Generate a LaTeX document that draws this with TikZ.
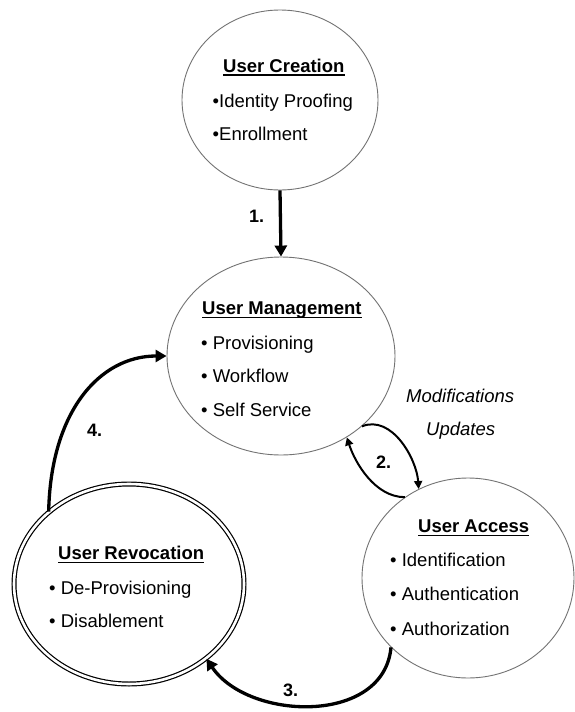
\documentclass[tikz,border=0pt]{standalone}
\usepackage{fontspec}
\setmainfont{Liberation Sans}
\usetikzlibrary{arrows.meta,shapes.geometric}
\newcommand\myul[1]{\setbox0\hbox{#1}\rlap{\usebox0}\rule[-3.6pt]{\wd0}{1.3pt}}
\begin{document}
\begin{tikzpicture}[x=1pt,y=-1pt,
  bub/.style={draw=black!55, line width=0.9pt, ellipse, inner sep=0pt},
  dbub/.style={draw=black, line width=1.2pt, double=white, double distance=2.6pt, ellipse, inner sep=0pt},
  txt/.style={anchor=base west, inner sep=0pt, font=\fontsize{18.5}{22}\selectfont},
  ttl/.style={anchor=base west, inner sep=0pt, font=\fontsize{18.5}{22}\selectfont\bfseries},
  lbl/.style={anchor=base west, inner sep=0pt, font=\fontsize{18}{22}\selectfont\bfseries},
  ital/.style={anchor=base west, inner sep=0pt, font=\fontsize{18.5}{22}\selectfont\itshape},
  bigarrow/.style={line width=3.3pt, -{Triangle[length=11pt,width=12pt]}},
  smallarrow/.style={line width=2pt, -{Triangle[length=8pt,width=8pt]}}]
\fill[white] (0,0) rectangle (574,712);
\useasboundingbox (0,0) rectangle (574,712);

% bubbles
\node[bub, minimum width=196pt, minimum height=180pt] (uc) at (280,100) {};
\node[bub, minimum width=228pt, minimum height=198pt] (um) at (281,356) {};
\node[bub, minimum width=212pt, minimum height=200pt] (ua) at (468,578) {};
\node[dbub, minimum width=230pt, minimum height=200pt] (ur) at (129,584) {};

% User Creation text
\node[ttl] (uct) at (223,72) {\myul{User Creation}};
\node[txt] (uc1) at (212.5,107.3) {•Identity Proofing};
\node[txt] (uc2) at (212.5,140.7) {•Enrollment};

% User Management text
\node[ttl] (umt) at (202,314.3) {\myul{User Management}};
\node[txt] (um1) at (201,349) {• Provisioning};
\node[txt] (um2) at (201,382.7) {• Workflow};
\node[txt] (um3) at (201,416.7) {• Self Service};

% User Access text
\node[ttl] (uat) at (418,532.3) {\myul{User Access}};
\node[txt] (ua1) at (390,566.7) {• Identification};
\node[txt] (ua2) at (390,600.7) {• Authentication};
\node[txt] (ua3) at (390,635) {• Authorization};

% User Revocation text
\node[ttl] (urt) at (58,559.3) {\myul{User Revocation}};
\node[txt] (ur1) at (49,594) {• De-Provisioning};
\node[txt] (ur2) at (49,627.7) {• Disablement};

% connectors
\draw[bigarrow] (uc.south) -- (um.north);
\draw[smallarrow] (um.-41) .. controls +(30,-12) and +(-2,-30) .. (ua.119);
\draw[smallarrow] (ua.128) .. controls +(-30,0) and +(8,25) .. (um.-51);
\draw[bigarrow] (ua.222) .. controls +(-7,78) and +(42,62) .. (ur.-44);
\draw[bigarrow] (ur.138) .. controls +(2,-100) and +(-67,0) .. (um.west);

% labels
\node[lbl] (l1) at (249,222.7) {1.};
\node[lbl] (l2) at (376,468.3) {2.};
\node[lbl] (l3) at (283,696.7) {3.};
\node[lbl] (l4) at (87,436) {4.};
\node[ital] (mod) at (406,402.7) {Modifications};
\node[ital] (upd) at (426,435) {Updates};
\end{tikzpicture}
\end{document}
